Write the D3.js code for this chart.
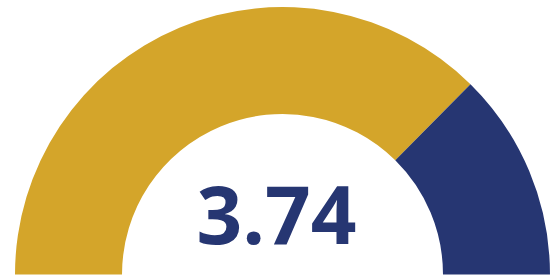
<!DOCTYPE html>
<html>
<head>
<meta charset="utf-8">
<script src="https://cdn.jsdelivr.net/npm/d3@7"></script>
<style>
  body { margin: 0; background: #fff; }
</style>
</head>
<body>
<div id="chart"></div>
<script>
const value = 3.74;
const scaleMax = 5;
const segmentColors = ['#d4a52a', '#263672'];

const svgWidth = 556, svgHeight = 278;
const cx = 282.5, cy = 274.5;
const outerR = 267.5, innerR = 160.5;

const svg = d3.select('#chart').append('svg')
  .attr('width', svgWidth)
  .attr('height', svgHeight);

const angle = d3.scaleLinear()
  .domain([0, scaleMax])
  .range([-Math.PI / 2, Math.PI / 2]);

const arc = d3.arc()
  .innerRadius(innerR)
  .outerRadius(outerR);

const segments = [
  { start: 0, end: value },
  { start: value, end: scaleMax }
];

const g = svg.append('g')
  .attr('transform', `translate(${cx}, ${cy})`);

g.selectAll('path')
  .data(segments)
  .enter()
  .append('path')
  .attr('d', d => arc({ startAngle: angle(d.start), endAngle: angle(d.end) }))
  .attr('fill', (d, i) => segmentColors[i]);

g.append('text')
  .attr('x', -6)
  .attr('y', -31)
  .attr('text-anchor', 'middle')
  .attr('font-family', 'Open Sans, sans-serif')
  .attr('font-weight', 700)
  .attr('font-size', 80)
  .attr('fill', '#263672')
  .text(value.toFixed(2));
</script>
</body>
</html>
